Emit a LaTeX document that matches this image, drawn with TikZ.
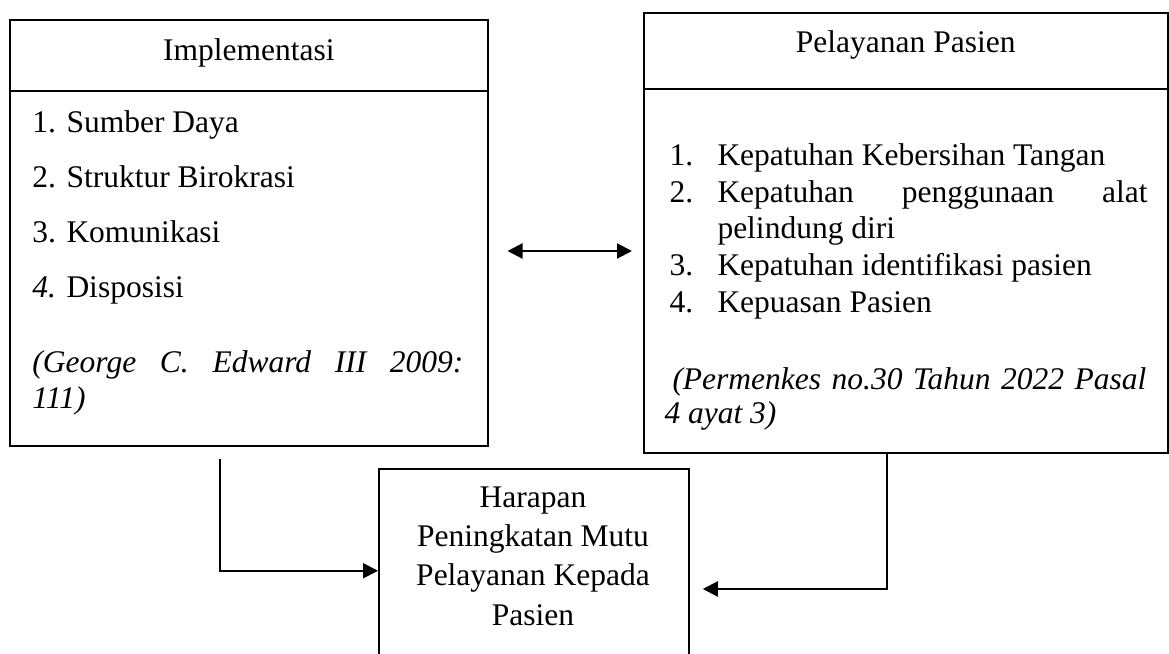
\documentclass[tikz,border=0pt]{standalone}
\usepackage{fontspec}
\setmainfont{Liberation Serif}
\usetikzlibrary{arrows.meta}
\tikzset{
    box/.style={draw, line width=0.6pt, inner sep=0pt, anchor=north west},
    txt/.style={inner sep=0pt, font=\fontsize{12.6}{15}\selectfont},
    link/.style={line width=0.8pt}
}

\begin{document}
\begin{tikzpicture}[x=0.4pt, y=-0.4pt, >={Triangle[length=6pt,width=6pt]}]
    \useasboundingbox (0,0) rectangle (1169,654);
    % boxes
    \node[box, minimum width=191.2pt, minimum height=28.4pt] (implHead) at (9,19) {};
    \node[box, minimum width=191.2pt, minimum height=142pt] (implBody) at (9,90) {};
    \node[box, minimum width=209.6pt, minimum height=30.4pt] (servHead) at (643,12) {};
    \node[box, minimum width=209.6pt, minimum height=145.6pt] (servBody) at (643,88) {};
    \node[box, minimum width=124pt, minimum height=81.6pt] (goal) at (378,468) {};

    \node[txt, anchor=base] (implTitle) at (implHead.center |- 0,60) {Implementasi};
    \node[txt, anchor=base] (servTitle) at (servHead.center |- 0,52) {Pelayanan Pasien};

    \foreach \n/\t [count=\i] in {1./Sumber Daya, 2./Struktur Birokrasi, 3./Komunikasi, \textit{4.}/Disposisi} {
        \node[txt, anchor=base west] (implNum-\i) at (32,{76.7+55.3*\i}) {\n};
        \node[txt, anchor=base west] (implItem-\i) at (66,{76.7+55.3*\i}) {\t};
    }
    \node[txt, anchor=base west] (implRef1) at (32,372) {\makebox[172.4pt][s]{\textit{(George C. Edward III 2009:}}};
    \node[txt, anchor=base west] (implRef2) at (32,408) {\textit{111)}};

    \foreach \t/\y [count=\i] in {Kepatuhan Kebersihan Tangan/165, {\makebox[172pt][s]{Kepatuhan penggunaan alat}}/202, Kepatuhan identifikasi pasien/275, Kepuasan Pasien/312} {
        \node[txt, anchor=base west] (servNum-\i) at (669,\y) {\i.};
        \node[txt, anchor=base west] (servItem-\i) at (717,\y) {\t};
    }
    \node[txt, anchor=base west] (servItem-2b) at (717,238) {pelindung diri};
    \node[txt, anchor=base west] (servRef1) at (672,389) {\makebox[189.6pt][s]{\textit{(Permenkes no.30 Tahun 2022 Pasal}}};
    \node[txt, anchor=base west] (servRef2) at (664,423) {\textit{4 ayat 3)}};

    \foreach \t [count=\i] in {Harapan, Peningkatan Mutu, Pelayanan Kepada, Pasien}
        \node[txt, anchor=base] (goal-\i) at (533,{468+39.3*\i}) {\t};

    % connectors
    \coordinate (mid) at (569,251);
    \coordinate (implOut) at (220,459);
    \coordinate (servOut) at (887,0);
    \draw[link, <->, shorten <=7.6pt, shorten >=4.4pt] (implBody.east |- mid) -- (servBody.west |- mid);
    \draw[link, ->] (implOut) |- (goal.west);
    \draw[link, ->, shorten >=5.3pt] (servBody.south -| servOut) |- (goal.east |- 0,589);
\end{tikzpicture}
\end{document}
